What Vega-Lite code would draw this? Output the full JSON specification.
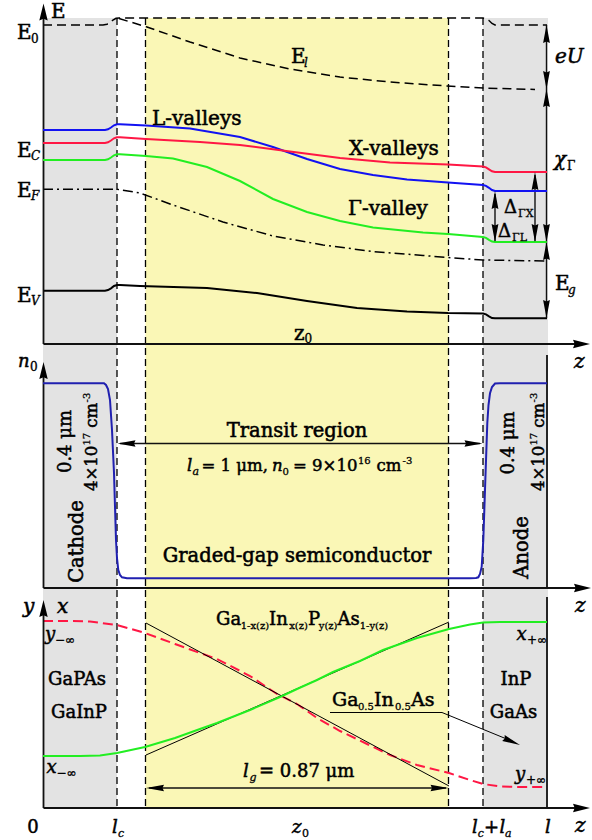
{
"$schema": "https://vega.github.io/schema/vega-lite/v6.json",
"width": 592, "height": 840,
"autosize": {"type": "fit", "contains": "padding"},
"padding": 0,
"background": "white",
"config": {"view": {"stroke": null}},
"datasets": {
"regions": [
{"r": "cathode", "u": 43, "u2": 117, "v": 18, "v2": 808},
{"r": "anode", "u": 483, "u2": 548, "v": 18, "v2": 808},
{"r": "graded", "u": 145.5, "u2": 448.5, "v": 18, "v2": 808}
],
"vdash": [
{"u": 117, "u2": 117, "v": 18, "v2": 808},
{"u": 145.5, "u2": 145.5, "v": 18, "v2": 808},
{"u": 448.5, "u2": 448.5, "v": 18, "v2": 808},
{"u": 483, "u2": 483, "v": 18, "v2": 808}
],
"curves": [
{"s":"E0","u":43,"v":25},{"s":"E0","u":103,"v":25},{"s":"E0","u":107,"v":24.2},{"s":"E0","u":110,"v":22.5},{"s":"E0","u":113,"v":20},{"s":"E0","u":116,"v":18.3},{"s":"E0","u":119,"v":18},{"s":"E0","u":483,"v":18},{"s":"E0","u":486,"v":18.5},{"s":"E0","u":489,"v":20.5},{"s":"E0","u":492,"v":23.5},{"s":"E0","u":495,"v":25},{"s":"E0","u":547,"v":25},
{"s":"El","u":119,"v":18.5},{"s":"El","u":147,"v":27},{"s":"El","u":190,"v":42},{"s":"El","u":240,"v":58},{"s":"El","u":290,"v":69},{"s":"El","u":340,"v":77},{"s":"El","u":390,"v":82},{"s":"El","u":447,"v":86},{"s":"El","u":483,"v":88},{"s":"El","u":535,"v":89.5},
{"s":"L","u":43,"v":130},{"s":"L","u":105,"v":130},{"s":"L","u":108,"v":129.3},{"s":"L","u":111,"v":127.5},{"s":"L","u":114,"v":125.3},{"s":"L","u":117,"v":124.3},{"s":"L","u":120,"v":124.2},{"s":"L","u":146,"v":125.5},{"s":"L","u":190,"v":128.5},{"s":"L","u":240,"v":137},{"s":"L","u":273,"v":147},{"s":"L","u":307,"v":159},{"s":"L","u":340,"v":169},{"s":"L","u":373,"v":175},{"s":"L","u":407,"v":179.5},{"s":"L","u":448,"v":182.5},{"s":"L","u":483,"v":185},{"s":"L","u":486,"v":185.8},{"s":"L","u":489,"v":187.8},{"s":"L","u":492,"v":190},{"s":"L","u":495,"v":191},{"s":"L","u":547,"v":191},
{"s":"X","u":43,"v":143},{"s":"X","u":105,"v":143},{"s":"X","u":108,"v":142.3},{"s":"X","u":111,"v":140.5},{"s":"X","u":114,"v":138.3},{"s":"X","u":117,"v":137.3},{"s":"X","u":120,"v":137.2},{"s":"X","u":146,"v":139},{"s":"X","u":200,"v":142},{"s":"X","u":240,"v":145},{"s":"X","u":290,"v":151.5},{"s":"X","u":340,"v":158},{"s":"X","u":390,"v":162.5},{"s":"X","u":448,"v":164.5},{"s":"X","u":483,"v":166.5},{"s":"X","u":486,"v":167.3},{"s":"X","u":489,"v":169.3},{"s":"X","u":492,"v":171.3},{"s":"X","u":495,"v":172},{"s":"X","u":547,"v":172},
{"s":"G","u":43,"v":160},{"s":"G","u":105,"v":160},{"s":"G","u":108,"v":159.3},{"s":"G","u":111,"v":157.5},{"s":"G","u":114,"v":155.3},{"s":"G","u":117,"v":154.3},{"s":"G","u":120,"v":154.2},{"s":"G","u":146,"v":156},{"s":"G","u":173,"v":158.5},{"s":"G","u":207,"v":167},{"s":"G","u":240,"v":181},{"s":"G","u":273,"v":199},{"s":"G","u":307,"v":212},{"s":"G","u":340,"v":221},{"s":"G","u":373,"v":227.5},{"s":"G","u":423,"v":232.5},{"s":"G","u":448,"v":234},{"s":"G","u":483,"v":237},{"s":"G","u":486,"v":237.8},{"s":"G","u":489,"v":239.8},{"s":"G","u":492,"v":241.5},{"s":"G","u":495,"v":242},{"s":"G","u":547,"v":242},
{"s":"EF","u":43,"v":189.3},{"s":"EF","u":117,"v":189.3},{"s":"EF","u":140,"v":193},{"s":"EF","u":173,"v":205},{"s":"EF","u":223,"v":222},{"s":"EF","u":273,"v":236},{"s":"EF","u":323,"v":245},{"s":"EF","u":373,"v":251.5},{"s":"EF","u":423,"v":255.5},{"s":"EF","u":448,"v":257.5},{"s":"EF","u":483,"v":260},{"s":"EF","u":547,"v":261},
{"s":"EV","u":43,"v":290.7},{"s":"EV","u":105,"v":290.7},{"s":"EV","u":108,"v":290},{"s":"EV","u":111,"v":288.3},{"s":"EV","u":114,"v":286},{"s":"EV","u":117,"v":285},{"s":"EV","u":120,"v":285},{"s":"EV","u":140,"v":286},{"s":"EV","u":207,"v":288},{"s":"EV","u":257,"v":293},{"s":"EV","u":307,"v":301},{"s":"EV","u":357,"v":308},{"s":"EV","u":407,"v":311.5},{"s":"EV","u":448,"v":313},{"s":"EV","u":483,"v":313.5},{"s":"EV","u":486,"v":314.3},{"s":"EV","u":489,"v":316.3},{"s":"EV","u":492,"v":318},{"s":"EV","u":495,"v":318.3},{"s":"EV","u":547,"v":318.3},
{"s":"n0","u":43,"v":383.3},{"s":"n0","u":104,"v":383.3},{"s":"n0","u":106,"v":385},{"s":"n0","u":108,"v":389},{"s":"n0","u":110,"v":400},{"s":"n0","u":112,"v":430},{"s":"n0","u":114,"v":473},{"s":"n0","u":116,"v":540},{"s":"n0","u":117,"v":558},{"s":"n0","u":118.3,"v":570},{"s":"n0","u":120,"v":575},{"s":"n0","u":122,"v":577.3},{"s":"n0","u":127,"v":578.3},{"s":"n0","u":470,"v":578.3},{"s":"n0","u":476,"v":578},{"s":"n0","u":478.3,"v":577.3},{"s":"n0","u":480,"v":574},{"s":"n0","u":481.7,"v":566.7},{"s":"n0","u":483.3,"v":540},{"s":"n0","u":485,"v":490},{"s":"n0","u":487.3,"v":423},{"s":"n0","u":488.5,"v":405},{"s":"n0","u":490,"v":393.3},{"s":"n0","u":492,"v":387},{"s":"n0","u":495,"v":383.5},{"s":"n0","u":500,"v":383.3},{"s":"n0","u":547,"v":383.3},
{"s":"xc","u":43,"v":756},{"s":"xc","u":80,"v":756},{"s":"xc","u":100,"v":755.5},{"s":"xc","u":117,"v":753},{"s":"xc","u":145,"v":747},{"s":"xc","u":175,"v":738},{"s":"xc","u":200,"v":729},{"s":"xc","u":217,"v":723},{"s":"xc","u":250,"v":710},{"s":"xc","u":280,"v":697},{"s":"xc","u":297,"v":689},{"s":"xc","u":317,"v":680},{"s":"xc","u":333,"v":672},{"s":"xc","u":360,"v":661},{"s":"xc","u":383,"v":650},{"s":"xc","u":417,"v":638},{"s":"xc","u":449,"v":629},{"s":"xc","u":470,"v":624.5},{"s":"xc","u":483,"v":622.5},{"s":"xc","u":500,"v":622},{"s":"xc","u":547,"v":622},
{"s":"yc","u":43,"v":621},{"s":"yc","u":70,"v":621},{"s":"yc","u":90,"v":621.5},{"s":"yc","u":117,"v":625},{"s":"yc","u":145,"v":633},{"s":"yc","u":175,"v":644},{"s":"yc","u":200,"v":653},{"s":"yc","u":217,"v":659},{"s":"yc","u":250,"v":676},{"s":"yc","u":277,"v":694},{"s":"yc","u":297,"v":704},{"s":"yc","u":317,"v":718},{"s":"yc","u":340,"v":731},{"s":"yc","u":367,"v":744},{"s":"yc","u":390,"v":755},{"s":"yc","u":417,"v":765},{"s":"yc","u":449,"v":773},{"s":"yc","u":470,"v":780},{"s":"yc","u":483,"v":784},{"s":"yc","u":500,"v":786.5},{"s":"yc","u":520,"v":787},{"s":"yc","u":547,"v":787}
],
"rules": [
{"k":"axis","u":43.5,"v":14,"u2":43.5,"v2":344},
{"k":"axis","u":43.5,"v":344,"u2":578,"v2":344},
{"k":"axis","u":43.5,"v":372,"u2":43.5,"v2":588},
{"k":"axis","u":43.5,"v":588,"u2":578,"v2":588},
{"k":"axis","u":547,"v":355,"u2":547,"v2":588},
{"k":"axis","u":43.5,"v":612,"u2":43.5,"v2":808},
{"k":"axis","u":43.5,"v":808,"u2":578,"v2":808},
{"k":"axis","u":547,"v":597,"u2":547,"v2":808},
{"k":"dim","u":546.5,"v":25,"u2":546.5,"v2":318},
{"k":"dim","u":535,"v":175,"u2":535,"v2":242},
{"k":"dim","u":495,"v":194,"u2":495,"v2":242},
{"k":"dim","u":120,"v":443.5,"u2":480,"v2":443.5},
{"k":"dim","u":149,"v":788,"u2":446,"v2":788},
{"k":"thin","u":146,"v":623,"u2":449,"v2":786},
{"k":"thin","u":146,"v":755,"u2":449,"v2":622},
{"k":"thin","u":330,"v":712.5,"u2":442,"v2":712.5},
{"k":"thin","u":442,"v":712.5,"u2":514,"v2":742}
],
"heads": [
{"d":"ua","u":43.5,"v":12},{"d":"ra","u":581.5,"v":344},{"d":"ua","u":43.5,"v":370.5},{"d":"ra","u":582.5,"v":588},{"d":"ua","u":43.5,"v":608.5},{"d":"ra","u":581.5,"v":808},
{"d":"ud","u":546.5,"v":34},{"d":"dd","u":546.5,"v":80},{"d":"ud","u":546.5,"v":98},{"d":"dd","u":546.5,"v":233},{"d":"ud","u":546.5,"v":251},{"d":"dd","u":546.5,"v":309},
{"d":"ud","u":535,"v":181},{"d":"dd","u":535,"v":233},{"d":"ud","u":495,"v":200},{"d":"dd","u":495,"v":233},
{"d":"ld","u":126.5,"v":443.5},{"d":"rd","u":473.5,"v":443.5},{"d":"ld","u":155,"v":788},{"d":"rd","u":439.5,"v":788},{"d":"dg","u":511.7,"v":741.5}
],
"texts": [
{"g":"r20","t":"E","u":51,"v":18},
{"g":"r20","t":"E","u":17,"v":39},
{"g":"r20","t":"E","u":17,"v":157},
{"g":"r20","t":"E","u":17,"v":197},
{"g":"r20","t":"E","u":17,"v":302},
{"g":"r20","t":"L-valleys","u":152,"v":125},
{"g":"r20","t":"X-valleys","u":349,"v":155},
{"g":"r20","t":"Γ-valley","u":348,"v":215},
{"g":"r20","t":"E","u":291,"v":63},
{"g":"r20","t":"E","u":555,"v":290},
{"g":"r20","t":"z","u":294,"v":340},
{"g":"r18","t":"Δ","u":504,"v":213},
{"g":"r18","t":"Δ","u":498,"v":237},
{"g":"s12","t":"0","u":31,"v":43},
{"g":"s12","t":"0","u":304.5,"v":343},
{"g":"s12","t":"Γ","u":567,"v":170},
{"g":"s11","t":"ΓX","u":518,"v":217},
{"g":"s11","t":"ΓL","u":512,"v":241},
{"g":"s12","t":"0","u":30,"v":371},
{"g":"s12","t":"−∞","u":55,"v":644},
{"g":"s12","t":"−∞","u":56.5,"v":777},
{"g":"s12","t":"+∞","u":527,"v":644},
{"g":"s12","t":"+∞","u":526,"v":784},
{"g":"i12","t":"C","u":31,"v":160},
{"g":"i12","t":"F","u":31,"v":200},
{"g":"i12","t":"V","u":31,"v":305},
{"g":"i12","t":"l","u":304,"v":67},
{"g":"i12","t":"g","u":568,"v":294},
{"g":"i20","t":"eU","u":555,"v":63},
{"g":"i20","t":"χ","u":554,"v":166},
{"g":"i20","t":"z","u":574,"v":368},
{"g":"i20","t":"z","u":575,"v":612},
{"g":"i20","t":"y","u":23,"v":613},
{"g":"i20","t":"x","u":57,"v":613},
{"g":"i20","t":"z","u":575,"v":832},
{"g":"i18","t":"n","u":18,"v":367},
{"g":"c19","t":"Transit region","u":297,"v":437},
{"g":"c19","t":"Graded-gap semiconductor","u":297,"v":561.5},
{"g":"i16","t":"l","u":187,"v":471},
{"g":"i16","t":"n","u":272,"v":471},
{"g":"i11","t":"a","u":192.5,"v":474.5},
{"g":"i11","t":"c","u":118,"v":837},
{"g":"i11","t":"g","u":249.5,"v":781},
{"g":"i11","t":"c","u":477.8,"v":837},
{"g":"i11","t":"a","u":505,"v":837},
{"g":"s10","t":"0","u":282.6,"v":474.5},
{"g":"s10","t":"16","u":358,"v":464},
{"g":"s10","t":"-3","u":402.5,"v":464},
{"g":"s10","t":"1-x(z)","u":240.7,"v":629},
{"g":"s10","t":"x(z)","u":289.2,"v":629},
{"g":"s10","t":"y(z)","u":318.8,"v":629},
{"g":"s10","t":"1-y(z)","u":359.7,"v":629},
{"g":"s10","t":"0.5","u":358,"v":709.5},
{"g":"s10","t":"0.5","u":395,"v":709.5},
{"g":"r16","t":"= 1 μm,","u":201.5,"v":471},
{"g":"r16","t":"= 9×10","u":293,"v":471},
{"g":"r16","t":"cm","u":376.5,"v":471},
{"g":"rotc","t":"Cathode","u":83,"v":541.5},
{"g":"rotc","t":"Anode","u":528,"v":547.5},
{"g":"rotc18","t":"0.4 μm","u":70.5,"v":441.5},
{"g":"rotc18","t":"0.4 μm","u":513.5,"v":443},
{"g":"rotl","t":"4×10","u":96.5,"v":491},
{"g":"rotl","t":"cm","u":96.5,"v":427.8},
{"g":"rotl","t":"4×10","u":544,"v":491},
{"g":"rotl","t":"cm","u":544,"v":427.8},
{"g":"rots","t":"17","u":89.5,"v":445.5},
{"g":"rots","t":"-3","u":89.5,"v":402.4},
{"g":"rots","t":"17","u":537,"v":445.5},
{"g":"rots","t":"-3","u":537,"v":402.4},
{"g":"c18","t":"GaPAs","u":77,"v":685},
{"g":"c18","t":"GaInP","u":79,"v":718},
{"g":"c18","t":"InP","u":516,"v":685},
{"g":"c18","t":"GaAs","u":513.5,"v":718},
{"g":"c18","t":"0","u":33,"v":833},
{"g":"r18","t":"Ga","u":216,"v":625},
{"g":"r18","t":"In","u":269.1,"v":625},
{"g":"r18","t":"P","u":307.9,"v":625},
{"g":"r18","t":"As","u":337.5,"v":625},
{"g":"r18","t":"= 0.87 μm","u":259,"v":777},
{"g":"r18","t":"+","u":484,"v":833},
{"g":"r19","t":"Ga","u":332,"v":706},
{"g":"r19","t":"In","u":374,"v":706},
{"g":"r19","t":"As","u":411,"v":706},
{"g":"i18","t":"y","u":45,"v":640},
{"g":"i18","t":"x","u":46.5,"v":773},
{"g":"i18","t":"x","u":516.5,"v":640},
{"g":"i18","t":"y","u":515,"v":780},
{"g":"i18","t":"l","u":243,"v":777},
{"g":"i18","t":"l","u":112,"v":833},
{"g":"i18","t":"z","u":292,"v":833},
{"g":"i18","t":"l","u":472,"v":833},
{"g":"i18","t":"l","u":499.5,"v":833},
{"g":"i18","t":"l","u":545,"v":833},
{"g":"s11","t":"0","u":302,"v":837}
]
},
"encoding": {
"x": {"field": "u", "type": "quantitative", "scale": {"domain": [0, 592], "nice": false, "zero": false}, "axis": null},
"y": {"field": "v", "type": "quantitative", "scale": {"domain": [0, 840], "nice": false, "zero": false, "reverse": true}, "axis": null}
},
"layer": [
{"data": {"name": "regions"}, "transform": [{"filter": "datum.r !== 'graded'"}], "mark": {"type": "rect", "color": "#e3e3e3"}, "encoding": {"x2": {"field": "u2"}, "y2": {"field": "v2"}}},
{"data": {"name": "regions"}, "transform": [{"filter": "datum.r === 'graded'"}], "mark": {"type": "rect", "color": "#faf7b6"}, "encoding": {"x2": {"field": "u2"}, "y2": {"field": "v2"}}},
{"data": {"name": "vdash"}, "mark": {"type": "rule", "color": "black", "strokeWidth": 1.3, "strokeDash": [7, 4]}, "encoding": {"x2": {"field": "u2"}, "y2": {"field": "v2"}}},
{"data": {"name": "curves"}, "transform": [{"filter": "datum.s === 'E0' || datum.s === 'El'"}], "mark": {"type": "line", "color": "black", "strokeWidth": 1.5, "strokeDash": [9, 5]}, "encoding": {"detail": {"field": "s", "type": "nominal"}}},
{"data": {"name": "curves"}, "transform": [{"filter": "datum.s === 'EF'"}], "mark": {"type": "line", "color": "black", "strokeWidth": 1.5, "strokeDash": [10, 4, 2, 4]}, "encoding": {}},
{"data": {"name": "curves"}, "transform": [{"filter": "datum.s === 'EV'"}], "mark": {"type": "line", "color": "black", "strokeWidth": 2}, "encoding": {}},
{"data": {"name": "curves"}, "transform": [{"filter": "datum.s === 'yc'"}], "mark": {"type": "line", "color": "#ff1744", "strokeWidth": 2, "strokeDash": [10, 5]}, "encoding": {}},
{"data": {"name": "rules"}, "transform": [{"filter": "datum.k === 'axis'"}], "mark": {"type": "rule", "color": "#111", "strokeWidth": 1.8}, "encoding": {"x2": {"field": "u2"}, "y2": {"field": "v2"}}},
{"data": {"name": "rules"}, "transform": [{"filter": "datum.k === 'dim'"}], "mark": {"type": "rule", "color": "#111", "strokeWidth": 1.4}, "encoding": {"x2": {"field": "u2"}, "y2": {"field": "v2"}}},
{"data": {"name": "rules"}, "transform": [{"filter": "datum.k === 'thin'"}], "mark": {"type": "rule", "color": "black", "strokeWidth": 1}, "encoding": {"x2": {"field": "u2"}, "y2": {"field": "v2"}}},
{"data": {"name": "curves"}, "transform": [{"filter": "indexof(['L','X','G','n0','xc'], datum.s) >= 0"}], "mark": {"type": "line", "strokeWidth": 2}, "encoding": {"color": {"field": "s", "type": "nominal", "scale": {"domain": ["L", "X", "G", "n0", "xc"], "range": ["#1212f2", "#ff1744", "#22ee22", "#2020b0", "#22ee22"]}, "legend": null}}},
{"data": {"name": "heads"}, "mark": {"type": "point", "filled": true, "size": 400, "color": "black", "opacity": 1, "strokeWidth": 0}, "encoding": {"shape": {"field": "d", "type": "nominal", "scale": {"domain": ["ua", "ra", "ud", "dd", "ld", "rd", "dg"], "range": ["M0,-0.85L0.42,0.85L0,0.68L-0.42,0.85Z", "M0.85,0L-0.85,0.42L-0.68,0L-0.85,-0.42Z", "M0,-0.9L0.34,0.9L0,0.75L-0.34,0.9Z", "M0,0.9L0.34,-0.9L0,-0.75L-0.34,-0.9Z", "M-0.9,0L0.9,0.32L0.75,0L0.9,-0.32Z", "M0.9,0L-0.9,0.32L-0.75,0L-0.9,-0.32Z", "M0.829,0.35L-0.953,-0.055L-0.691,-0.292L-0.704,-0.645Z"]}, "legend": null}}},
{"data": {"name": "texts"}, "transform": [{"filter": "datum.g === 'r20'"}], "mark": {"type": "text", "font": "DejaVu Serif", "fontSize": 20, "align": "left", "baseline": "alphabetic", "color": "black", "stroke": "black", "strokeWidth": 0.55}, "encoding": {"text": {"field": "t"}}},
{"data": {"name": "texts"}, "transform": [{"filter": "datum.g === 's12'"}], "mark": {"type": "text", "font": "DejaVu Serif", "fontSize": 12, "align": "left", "baseline": "alphabetic", "color": "black", "stroke": "black", "strokeWidth": 0.35}, "encoding": {"text": {"field": "t"}}},
{"data": {"name": "texts"}, "transform": [{"filter": "datum.g === 'i12'"}], "mark": {"type": "text", "font": "DejaVu Serif", "fontStyle": "italic", "fontSize": 12, "align": "left", "baseline": "alphabetic", "color": "black", "stroke": "black", "strokeWidth": 0.35}, "encoding": {"text": {"field": "t"}}},
{"data": {"name": "texts"}, "transform": [{"filter": "datum.g === 'i20'"}], "mark": {"type": "text", "font": "DejaVu Serif", "fontStyle": "italic", "fontSize": 20, "align": "left", "baseline": "alphabetic", "color": "black", "stroke": "black", "strokeWidth": 0.55}, "encoding": {"text": {"field": "t"}}},
{"data": {"name": "texts"}, "transform": [{"filter": "datum.g === 'c19'"}], "mark": {"type": "text", "font": "DejaVu Serif", "fontSize": 19.5, "align": "center", "baseline": "alphabetic", "color": "black", "stroke": "black", "strokeWidth": 0.55}, "encoding": {"text": {"field": "t"}}},
{"data": {"name": "texts"}, "transform": [{"filter": "datum.g === 'i16'"}], "mark": {"type": "text", "font": "DejaVu Serif", "fontStyle": "italic", "fontSize": 16.5, "align": "left", "baseline": "alphabetic", "color": "black", "stroke": "black", "strokeWidth": 0.5}, "encoding": {"text": {"field": "t"}}},
{"data": {"name": "texts"}, "transform": [{"filter": "datum.g === 'i11'"}], "mark": {"type": "text", "font": "DejaVu Serif", "fontStyle": "italic", "fontSize": 11, "align": "left", "baseline": "alphabetic", "color": "black", "stroke": "black", "strokeWidth": 0.3}, "encoding": {"text": {"field": "t"}}},
{"data": {"name": "texts"}, "transform": [{"filter": "datum.g === 's10'"}], "mark": {"type": "text", "font": "DejaVu Serif", "fontSize": 10, "align": "left", "baseline": "alphabetic", "color": "black", "stroke": "black", "strokeWidth": 0.3}, "encoding": {"text": {"field": "t"}}},
{"data": {"name": "texts"}, "transform": [{"filter": "datum.g === 's11'"}], "mark": {"type": "text", "font": "DejaVu Serif", "fontSize": 11, "align": "left", "baseline": "alphabetic", "color": "black", "stroke": "black", "strokeWidth": 0.3}, "encoding": {"text": {"field": "t"}}},
{"data": {"name": "texts"}, "transform": [{"filter": "datum.g === 'r16'"}], "mark": {"type": "text", "font": "DejaVu Serif", "fontSize": 16.5, "align": "left", "baseline": "alphabetic", "color": "black", "stroke": "black", "strokeWidth": 0.5}, "encoding": {"text": {"field": "t"}}},
{"data": {"name": "texts"}, "transform": [{"filter": "datum.g === 'rotc'"}], "mark": {"type": "text", "font": "DejaVu Serif", "fontSize": 19.5, "align": "center", "baseline": "alphabetic", "angle": 270, "color": "black", "stroke": "black", "strokeWidth": 0.55}, "encoding": {"text": {"field": "t"}}},
{"data": {"name": "texts"}, "transform": [{"filter": "datum.g === 'rotc18'"}], "mark": {"type": "text", "font": "DejaVu Serif", "fontSize": 18, "align": "center", "baseline": "alphabetic", "angle": 270, "color": "black", "stroke": "black", "strokeWidth": 0.5}, "encoding": {"text": {"field": "t"}}},
{"data": {"name": "texts"}, "transform": [{"filter": "datum.g === 'rotl'"}], "mark": {"type": "text", "font": "DejaVu Serif", "fontSize": 16.5, "align": "left", "baseline": "alphabetic", "angle": 270, "color": "black", "stroke": "black", "strokeWidth": 0.5}, "encoding": {"text": {"field": "t"}}},
{"data": {"name": "texts"}, "transform": [{"filter": "datum.g === 'rots'"}], "mark": {"type": "text", "font": "DejaVu Serif", "fontSize": 10, "align": "left", "baseline": "alphabetic", "angle": 270, "color": "black", "stroke": "black", "strokeWidth": 0.3}, "encoding": {"text": {"field": "t"}}},
{"data": {"name": "texts"}, "transform": [{"filter": "datum.g === 'c18'"}], "mark": {"type": "text", "font": "DejaVu Serif", "fontSize": 18, "align": "center", "baseline": "alphabetic", "color": "black", "stroke": "black", "strokeWidth": 0.5}, "encoding": {"text": {"field": "t"}}},
{"data": {"name": "texts"}, "transform": [{"filter": "datum.g === 'r18'"}], "mark": {"type": "text", "font": "DejaVu Serif", "fontSize": 18, "align": "left", "baseline": "alphabetic", "color": "black", "stroke": "black", "strokeWidth": 0.5}, "encoding": {"text": {"field": "t"}}},
{"data": {"name": "texts"}, "transform": [{"filter": "datum.g === 'r19'"}], "mark": {"type": "text", "font": "DejaVu Serif", "fontSize": 19, "align": "left", "baseline": "alphabetic", "color": "black", "stroke": "black", "strokeWidth": 0.5}, "encoding": {"text": {"field": "t"}}},
{"data": {"name": "texts"}, "transform": [{"filter": "datum.g === 'i18'"}], "mark": {"type": "text", "font": "DejaVu Serif", "fontStyle": "italic", "fontSize": 18, "align": "left", "baseline": "alphabetic", "color": "black", "stroke": "black", "strokeWidth": 0.5}, "encoding": {"text": {"field": "t"}}}
]
}
